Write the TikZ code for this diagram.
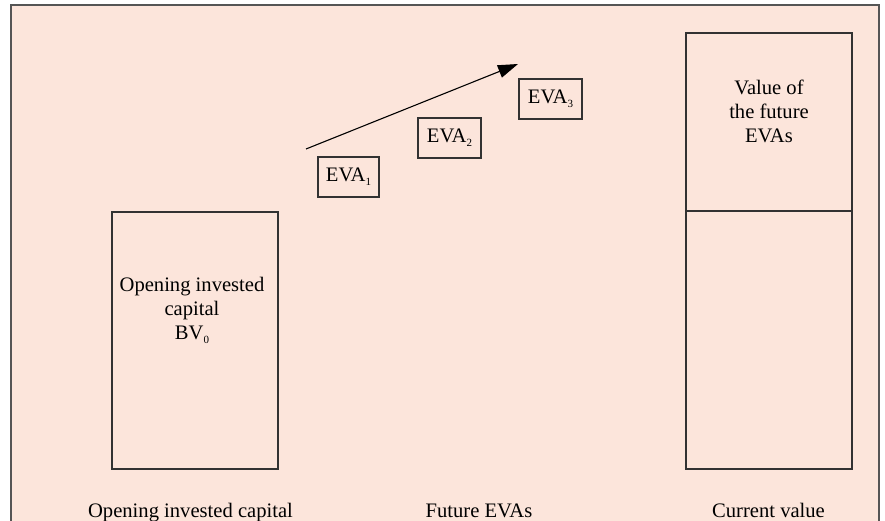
\documentclass[tikz,border=0pt]{standalone}
\usepackage{fontspec}
\setmainfont{Liberation Serif}
\usetikzlibrary{arrows.meta}
\definecolor{peach}{RGB}{252,229,219}
\definecolor{framegray}{RGB}{85,85,85}
\definecolor{boxline}{RGB}{50,50,50}
\newcommand{\lsub}[1]{\raisebox{-4pt}{\fontsize{11}{11}\selectfont #1}}
\begin{document}
\begin{tikzpicture}[x=1pt,y=-1pt,
  every node/.style={font=\fontsize{20.6}{24}\selectfont, text=black},
  bigbox/.style={draw=boxline, line width=1.2pt, inner sep=0pt, minimum width=166pt},
  evabox/.style={draw=boxline, line width=1.2pt, inner sep=0pt, minimum height=40pt},
  lbl/.style={anchor=base, align=center, inner sep=0pt}]
\useasboundingbox (0,0) rectangle (885,521);
\clip (0,0) rectangle (885,521);
\fill[white] (0,0) rectangle (885,521);
\draw[framegray, line width=2pt, fill=peach] (11,5) rectangle (879,560);
% left box
\node[bigbox, minimum height=257pt] (obox) at (195,340.5) {};
\node[lbl] (otext) at (192,339) {Opening invested\\capital\\BV\lsub{0}};
% right boxes
\node[bigbox, minimum height=178pt] (vtop) at (769,122) {};
\node[bigbox, minimum height=258pt] (vbot) at (769,340) {};
\node[lbl] (vtext) at (769,143) {Value of\\the future\\EVAs};
% EVA boxes
\node[evabox, minimum width=61pt] (e1) at (348.5,177) {EVA\lsub{1}};
\node[evabox, minimum width=63pt] (e2) at (449.5,138) {EVA\lsub{2}};
\node[evabox, minimum width=63pt] (e3) at (550.5,99) {EVA\lsub{3}};
% arrow
\coordinate (a0) at (306,149);
\coordinate (a1) at (518,64);
\draw[black, line width=1.1pt, -{Triangle[length=20pt,width=13pt]}] (a0) -- (a1);
% bottom labels
\node[lbl] (l1) at (190.5,517) {Opening invested capital};
\node[lbl] (l2) at (479,517) {Future EVAs};
\node[lbl] (l3) at (768.5,517) {Current value};
\end{tikzpicture}
\end{document}
